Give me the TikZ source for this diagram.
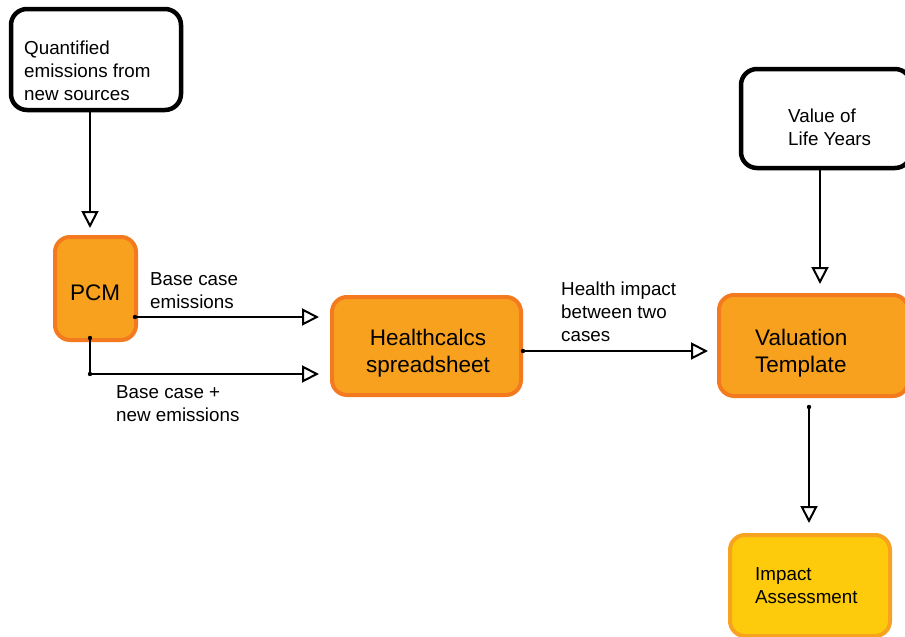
\documentclass[tikz,border=0pt]{standalone}
\usepackage{fontspec}
\setmainfont{Liberation Sans}
\usetikzlibrary{arrows.meta}
\definecolor{boxorange}{HTML}{F7A11F}
\definecolor{edgeorange}{HTML}{F47A20}
\definecolor{boxyellow}{HTML}{FDCB0B}
\definecolor{edgeyellow}{HTML}{F8A31F}
\begin{document}
\begin{tikzpicture}[x=1pt,y=-1pt,
  inbox/.style={draw=black, fill=white, line width=4.5pt, rounded corners=16pt, inner sep=0pt},
  procbox/.style={draw=edgeorange, fill=boxorange, line width=4pt, rounded corners=15pt, inner sep=0pt},
  outbox/.style={draw=edgeyellow, fill=boxyellow, line width=4pt, rounded corners=15pt, inner sep=0pt},
  small/.style={font=\fontsize{18.8}{23}\selectfont, inner sep=0pt, align=left, anchor=west},
  big/.style={font=\fontsize{22.5}{27}\selectfont, inner sep=0pt},
  arr/.style={line width=2pt, -{Triangle[open, length=17pt, width=17pt, line width=2pt]}},
  dot/.style={fill=black}]
\useasboundingbox (0,0) rectangle (905,637);
\fill[white] (0,0) rectangle (905,637);
\clip (0,0) rectangle (905,637);

% input boxes
\node[inbox, minimum width=170pt, minimum height=101pt] (q) at (96,59.5) {};
\node[inbox, minimum width=170pt, minimum height=99pt] (vly) at (826,118.5) {};

% processing boxes
\node[procbox, minimum width=81pt, minimum height=103pt] (pcm) at (95.5,288.5) {};
\node[procbox, minimum width=189pt, minimum height=98pt] (hc) at (426.5,346) {};
\node[procbox, minimum width=189pt, minimum height=101pt] (vt) at (813.5,345.5) {};

% result box
\node[outbox, minimum width=160pt, minimum height=101pt] (ia) at (810,585.5) {};

% box texts
\node[small] (qt) at (24,70.5) {Quantified\\emissions from\\new sources};
\node[small] (vlyt) at (788,127) {Value of\\Life Years};
\node[big] (pcmt) at (95,293) {PCM};
\node[big, align=center] (hct) at (428,353.5) {Healthcalcs\\spreadsheet};
\node[big, align=left, anchor=west] (vtt) at (755,353.5) {Valuation\\Template};
\node[small] (iat) at (755,586) {Impact\\Assessment};

% connector labels
\node[small] (l1) at (150,291) {Base case\\emissions};
\node[small] (l2) at (116,404) {Base case +\\new emissions};
\node[small] (l3) at (561,312) {Health impact\\between two\\cases};

% connector end points
\coordinate (s1) at ([xshift=-3pt, yshift=-28.5pt]pcm.east);
\coordinate (s2) at ([xshift=-5.5pt, yshift=4pt]pcm.south);
\coordinate (c2) at ([yshift=-28pt]hc.west);
\coordinate (s3) at ([yshift=-5pt]hc.east);
\coordinate (s4) at ([xshift=-4.5pt, yshift=-9pt]vt.south);

% connectors
\draw[arr, shorten >=7pt] ([xshift=-6pt]q.south) -- ([xshift=-5.5pt]pcm.north);
\draw[arr, shorten >=11pt] (s1) -- (s1 -| hc.west);
\draw[arr, shorten >=11pt] (s2) |- (c2);
\draw[arr, shorten >=9pt] (s3) -- (s3 -| vt.west);
\draw[arr, shorten >=9pt] ([xshift=-6pt]vly.south) -- ([xshift=-6pt]vly.south |- vt.north);
\draw[arr, shorten >=10pt] (s4) -- (s4 |- ia.north);

% junction dots
\fill[dot] (s1) circle (2.2pt);
\fill[dot] (s2) circle (2.2pt);
\fill[dot] (s2 |- c2) circle (2.2pt);
\fill[dot] (s3) circle (2.2pt);
\fill[dot] (s4) circle (2.2pt);
\end{tikzpicture}
\end{document}
